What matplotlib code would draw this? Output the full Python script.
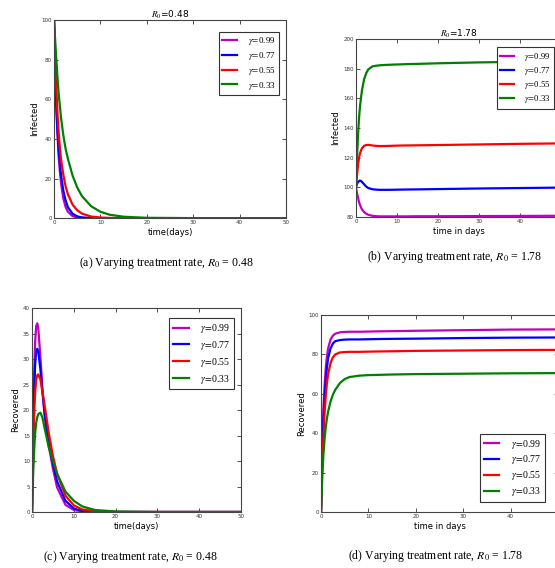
import numpy as np
import matplotlib
matplotlib.use("Agg")
import matplotlib.pyplot as plt

plt.rcParams["mathtext.fontset"] = "stix"
plt.rcParams["font.family"] = "DejaVu Sans"

t = [0, 0.25, 0.5, 0.75, 1, 1.25, 1.5, 2, 2.5, 3, 4, 5, 6, 8, 10, 12, 15, 20, 30, 40, 50]

gammas = ["0.99", "0.77", "0.55", "0.33"]
colors = ["m", "b", "r", "g"]

# (a) infected, R0 = 0.48
inf_a_099 = [100, 75, 55, 42, 31, 24, 18, 10, 5.6, 3.2, 1.0, 0.3, 0.1, 0, 0, 0, 0, 0, 0, 0, 0]
inf_a_077 = [100, 76, 57, 45, 35, 28, 22, 14, 9, 5.5, 2.2, 0.9, 0.35, 0.05, 0, 0, 0, 0, 0, 0, 0]
inf_a_055 = [100, 81, 65, 53, 43, 36, 30, 22, 16, 12, 6.8, 4.0, 2.3, 0.8, 0.3, 0.1, 0, 0, 0, 0, 0]
inf_a_033 = [100, 90, 80, 71, 63, 57, 51, 42, 35, 30, 21.5, 15.5, 11.2, 6, 3.2, 1.7, 0.7, 0.15, 0, 0, 0]

# (b) infected, R0 = 1.78
inf_b_099 = [100, 96, 93, 90, 88, 86.3, 85, 83.3, 82.2, 81.5, 80.8, 80.5, 80.4, 80.4, 80.4, 80.4, 80.5, 80.5, 80.6, 80.7, 80.8]
inf_b_077 = [100, 102.5, 103.5, 104.2, 104.5, 104.2, 103.5, 102, 100.5, 99.5, 98.7, 98.4, 98.3, 98.3, 98.4, 98.5, 98.6, 98.8, 99.2, 99.5, 99.8]
inf_b_055 = [100, 108, 115, 120, 123, 125, 126.5, 128, 128.5, 128.6, 128.2, 127.9, 127.8, 127.9, 128.1, 128.2, 128.3, 128.5, 128.9, 129.3, 129.6]
inf_b_033 = [100, 120, 135, 147, 155, 161, 166, 173, 177, 179.5, 181.5, 182, 182.3, 182.6, 182.8, 183, 183.2, 183.6, 184.2, 184.6, 185]

# (c) recovered, R0 = 0.48
rec_c_099 = [0, 16, 27, 33.5, 36.5, 37, 36, 30.5, 24, 19, 13, 8.5, 4.8, 1.4, 0.4, 0.1, 0, 0, 0, 0, 0]
rec_c_077 = [0, 14, 23, 29, 31.5, 32, 31.5, 28, 23.5, 19.5, 13.5, 9.5, 6, 2.2, 0.7, 0.2, 0.05, 0, 0, 0, 0]
rec_c_055 = [0, 11, 19, 23.5, 26, 26.8, 27, 26, 23.5, 21, 15.5, 11, 7.5, 3.2, 1.3, 0.5, 0.15, 0, 0, 0, 0]
rec_c_033 = [0, 7, 12, 15.5, 17.5, 18.6, 19.2, 19.5, 18.5, 16.5, 12.7, 10, 7.5, 4, 2.2, 1.1, 0.4, 0.1, 0, 0, 0]

# (d) recovered, R0 = 1.78
rec_d_099 = [0, 32, 52, 64, 73, 79, 83, 87.5, 89.5, 90.5, 91.2, 91.4, 91.5, 91.5, 91.6, 91.7, 91.8, 92, 92.3, 92.6, 92.7]
rec_d_077 = [0, 28, 46, 58, 67, 73.5, 78, 83, 85.5, 86.7, 87.3, 87.5, 87.6, 87.6, 87.7, 87.8, 87.9, 88, 88.3, 88.5, 88.6]
rec_d_055 = [0, 22, 38, 50, 59, 65.5, 70, 75.5, 78.5, 80, 81, 81.2, 81.3, 81.3, 81.4, 81.5, 81.6, 81.8, 82, 82.2, 82.3]
rec_d_033 = [0, 17, 29, 37, 43, 47.5, 51, 56, 59.5, 62, 65.5, 67.5, 68.5, 69.2, 69.5, 69.6, 69.8, 70, 70.2, 70.4, 70.5]

panels = [
    dict(rect=[0.0973, 0.616, 0.418, 0.3486], series=[inf_a_099, inf_a_077, inf_a_055, inf_a_033],
         ylim=(0, 100), yticks=[0, 20, 40, 60, 80, 100], ylabel="Infected", xlabel="time(days)",
         title="$R_0$=0.48", caption="(a) Varying treatment rate, $R_0$ = 0.48", cap_xy=(0.30, 0.537),
         leg=dict(loc="upper right", bbox_to_anchor=(0.99, 0.965)), lfs=6.5, ls=0.31),
    dict(rect=[0.6414, 0.618, 0.3694, 0.3134], series=[inf_b_099, inf_b_077, inf_b_055, inf_b_033],
         ylim=(80, 200), yticks=[80, 100, 120, 140, 160, 180, 200], ylabel="Infected", xlabel="time in days",
         title="$R_0$=1.78", caption="(b) Varying treatment rate, $R_0$ = 1.78", cap_xy=(0.82, 0.547),
         leg=dict(loc="upper left", bbox_to_anchor=(0.665, 0.978)), lfs=6.2, ls=0.25),
    dict(rect=[0.0577, 0.0986, 0.3766, 0.359], series=[rec_c_099, rec_c_077, rec_c_055, rec_c_033],
         ylim=(0, 40), yticks=[0, 5, 10, 15, 20, 25, 30, 35, 40], ylabel="Recovered", xlabel="time(days)",
         title=None, caption="(c) Varying treatment rate, $R_0$ = 0.48", cap_xy=(0.235, 0.02),
         leg=dict(loc="upper right", bbox_to_anchor=(0.99, 0.975)), lfs=7, ls=0.4),
    dict(rect=[0.5784, 0.0986, 0.427, 0.3468], series=[rec_d_099, rec_d_077, rec_d_055, rec_d_033],
         ylim=(0, 100), yticks=[0, 20, 40, 60, 80, 100], ylabel="Recovered", xlabel="time in days",
         title=None, caption="(d) Varying treatment rate, $R_0$ = 1.78", cap_xy=(0.785, 0.022),
         leg=dict(loc="lower left", bbox_to_anchor=(0.65, 0.025)), lfs=7, ls=0.3),
]

fig = plt.figure(figsize=(5.55, 5.68), dpi=100)

for p in panels:
    ax = fig.add_axes(p["rect"])
    for vals, g, c in zip(p["series"], gammas, colors):
        ax.plot(t, vals, color=c, lw=1.6, label=r"$\gamma\!=\!$" + g)
    ax.set_xlim(0, 50)
    ax.set_ylim(*p["ylim"])
    ax.set_xticks([0, 10, 20, 30, 40, 50])
    ax.set_yticks(p["yticks"])
    ax.tick_params(direction="in", top=True, right=True, labelsize=4, length=3, width=0.6, pad=1.5,
                   colors="#333333", labelcolor="#333333")
    for s in ax.spines.values():
        s.set_color("#444444")
        s.set_linewidth(0.8)
    ax.set_ylabel(p["ylabel"], fontsize=6, labelpad=2)
    ax.set_xlabel(p["xlabel"], fontsize=6, labelpad=2)
    if p["title"]:
        ax.set_title(p["title"], fontsize=6.5, pad=1.5)
    leg = ax.legend(prop={"family": "Liberation Serif", "size": p["lfs"]}, handlelength=1.6,
                    labelspacing=p["ls"], borderpad=0.4, handletextpad=1.2, fancybox=False,
                    framealpha=1, edgecolor="#333333", **p["leg"])
    leg.get_frame().set_linewidth(0.8)
    fig.text(p["cap_xy"][0], p["cap_xy"][1], p["caption"], ha="center", va="center",
             fontsize=8.5, family="Liberation Serif")

fig.savefig("out.png", dpi=100)
